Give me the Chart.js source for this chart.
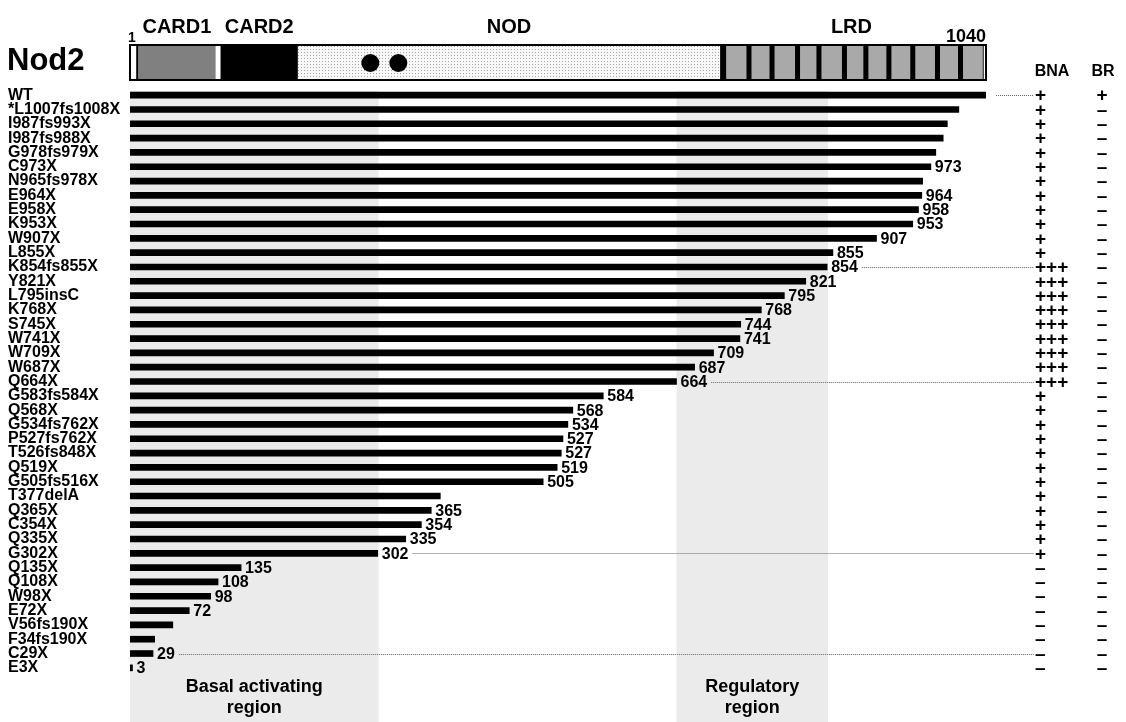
<!DOCTYPE html>
<html>
<head>
<meta charset="utf-8">
<title>Nod2 truncation mutants</title>
<script src="https://cdn.jsdelivr.net/npm/chart.js@4.4.1/dist/chart.umd.min.js"></script>
<style>
	body { margin: 0; background: #fff; }
	#wrap { width: 1126px; height: 722px; position: relative; }
</style>
</head>
<body>
<div id="wrap"><canvas id="mycanvas"></canvas></div>
<script>
// mutants, top to bottom
var mutants = ['WT', '*L1007fs1008X', 'I987fs993X', 'I987fs988X', 'G978fs979X', 'C973X', 'N965fs978X',
	'E964X', 'E958X', 'K953X', 'W907X', 'L855X', 'K854fs855X', 'Y821X', 'L795insC', 'K768X', 'S745X',
	'W741X', 'W709X', 'W687X', 'Q664X', 'G583fs584X', 'Q568X', 'G534fs762X', 'P527fs762X', 'T526fs848X',
	'Q519X', 'G505fs516X', 'T377delA', 'Q365X', 'C354X', 'Q335X', 'G302X', 'Q135X', 'Q108X', 'W98X',
	'E72X', 'V56fs190X', 'F34fs190X', 'C29X', 'E3X'];
// bar ends (residues) as drawn
var lengths = [1040, 1007, 993, 988, 979, 973, 963, 962, 958, 951, 907, 854, 847, 821, 795, 767, 742,
	741, 709, 686, 664, 575, 538, 532, 526, 524, 519, 502, 377, 366, 354, 335, 301, 135, 107, 98,
	72, 52, 30, 28, 3];
var endLabels = ['', '', '', '', '', '973', '', '964', '958', '953', '907', '855', '854', '821', '795', '768', '744',
	'741', '709', '687', '664', '584', '568', '534', '527', '527', '519', '505', '', '365', '354', '335', '302',
	'135', '108', '98', '72', '', '', '29', '3'];
var bna = ['+', '+', '+', '+', '+', '+', '+', '+', '+', '+', '+', '+', '+++', '+++', '+++', '+++', '+++',
	'+++', '+++', '+++', '+++', '+', '+', '+', '+', '+', '+', '+', '+', '+', '+', '+', '+',
	'\u2013', '\u2013', '\u2013', '\u2013', '\u2013', '\u2013', '\u2013', '\u2013'];
var br = ['+'];
for (var k = 1; k < mutants.length; k++) br.push('\u2013');
var linkedRows = ['WT', 'K854fs855X', 'Q664X', 'G302X', 'C29X'];

var regionNames = [['Basal activating', 'region'], ['Regulatory', 'region']];
var regionStarts = [0, 664];
var regionEnds = [302, 848];

var proteinLength = 1040;
var domainNames = ['CARD1', 'CARD2', 'NOD', 'LRD'];
var domainStarts = [10, 110, 204, 717];
var domainEnds = [104, 204, 717, 1036];
var lrrStarts = [717, 749, 777, 808, 834, 865, 891, 919, 948, 978, 1006];
var motifPositions = [292, 326];

var fontFam = '"Liberation Sans", Arial, sans-serif';

function stipple(ctx) {
	var p = document.createElement('canvas');
	p.width = 3; p.height = 3;
	var pc = p.getContext('2d');
	pc.fillStyle = '#f8f8f8';
	pc.fillRect(0, 0, 3, 3);
	pc.fillStyle = '#a8a8a8';
	pc.fillRect(1, 1, 1, 1);
	return ctx.createPattern(p, 'repeat');
}

var nod2Plugin = {
	id: 'nod2',
	beforeDatasetsDraw: function(chart) {
		var c = chart.ctx, xs = chart.scales.x, area = chart.chartArea;
		c.save();
		c.fillStyle = '#ebebeb';
		for (var i = 0; i < regionStarts.length; i++) {
			var x0 = xs.getPixelForValue(regionStarts[i]);
			var x1 = xs.getPixelForValue(regionEnds[i]);
			c.fillRect(x0, area.top + 3, x1 - x0, chart.height - area.top - 3);
		}
		c.restore();
	},
	afterDatasetsDraw: function(chart) {
		var c = chart.ctx, xs = chart.scales.x, ys = chart.scales.y;
		var px = function(v) { return xs.getPixelForValue(v); };
		c.save();

		// region captions
		c.fillStyle = '#000';
		c.textAlign = 'center';
		c.textBaseline = 'middle';
		c.font = 'bold 18px ' + fontFam;
		for (var r = 0; r < regionNames.length; r++) {
			var cx = (px(regionStarts[r]) + px(regionEnds[r])) / 2;
			c.fillText(regionNames[r][0], cx, 687);
			c.fillText(regionNames[r][1], cx, 708);
		}

		// value labels at bar ends
		c.textAlign = 'left';
		c.font = 'bold 16px ' + fontFam;
		var labelEnd = [];
		for (var i = 0; i < mutants.length; i++) {
			var y = ys.getPixelForValue(i);
			var xe = px(lengths[i]) + 4;
			labelEnd.push(px(lengths[i]) + 10);
			if (endLabels[i]) {
				c.fillText(endLabels[i], xe, y + 1);
				labelEnd[i] = xe + c.measureText(endLabels[i]).width + 4;
			}
		}

		// dotted connectors to BNA column
		c.strokeStyle = '#666';
		c.lineWidth = 1;
		c.setLineDash([1, 1]);
		for (var j = 0; j < linkedRows.length; j++) {
			var idx = mutants.indexOf(linkedRows[j]);
			var yy = Math.round(ys.getPixelForValue(idx)) + 0.5;
			c.beginPath();
			c.moveTo(labelEnd[idx], yy);
			c.lineTo(1034, yy);
			c.stroke();
		}
		c.setLineDash([]);

		// BNA / BR columns
		c.font = 'bold 16px ' + fontFam;
		c.textAlign = 'center';
		c.fillText('BNA', 1052, 72);
		c.fillText('BR', 1103, 72);
		c.font = 'bold 19px ' + fontFam;
		for (var i2 = 0; i2 < mutants.length; i2++) {
			var y2 = ys.getPixelForValue(i2) + 1;
			c.textAlign = 'left';
			c.fillText(bna[i2], 1035, y2);
			c.textAlign = 'center';
			c.fillText(br[i2], 1102, y2);
		}

		// domain bar
		var yT = 45, yB = 80, h = yB - yT;
		c.fillStyle = '#fff';
		c.fillRect(px(0), yT, px(proteinLength) - px(0), h);
		c.fillStyle = '#808080';
		c.fillRect(px(domainStarts[0]), yT, px(domainEnds[0]) - px(domainStarts[0]), h);
		c.fillStyle = '#000';
		c.fillRect(px(domainStarts[0]) - 2, yT, 2, h);
		c.fillRect(px(domainStarts[1]), yT, px(domainEnds[1]) - px(domainStarts[1]), h);
		c.fillStyle = stipple(c);
		c.fillRect(px(domainStarts[2]), yT, px(domainEnds[2]) - px(domainStarts[2]), h);
		c.fillStyle = '#a9a9a9';
		c.fillRect(px(domainStarts[3]), yT, px(domainEnds[3]) - px(domainStarts[3]), h);
		c.fillStyle = '#000';
		for (var s = 0; s < lrrStarts.length; s++) {
			c.fillRect(px(lrrStarts[s]), yT, s === 0 ? 6 : 5, h);
		}
		c.fillRect(px(domainEnds[3]), yT, 1, h);
		for (var m = 0; m < motifPositions.length; m++) {
			c.beginPath();
			c.arc(px(motifPositions[m]), 63, 9, 0, Math.PI * 2);
			c.fill();
		}
		c.strokeStyle = '#000';
		c.lineWidth = 2;
		c.strokeRect(px(0), yT, px(proteinLength) - px(0), h);

		// domain names and ends
		c.font = 'bold 20px ' + fontFam;
		c.textAlign = 'center';
		for (var d = 0; d < domainNames.length; d++) {
			c.fillText(domainNames[d], (px(domainStarts[d]) + px(domainEnds[d])) / 2, 27);
		}
		c.font = 'bold 14px ' + fontFam;
		c.fillText('1', px(0) + 2, 38);
		c.font = 'bold 18px ' + fontFam;
		c.textAlign = 'right';
		c.fillText(String(proteinLength), px(proteinLength), 37);
		c.textAlign = 'left';
		c.font = 'bold 31px ' + fontFam;
		c.fillText('Nod2', 7, 61);

		c.restore();
	}
};

var chartdata = {
	labels: mutants,
	datasets: [
		{
			label: 'Nod2 length',
			backgroundColor: '#000',
			borderWidth: 0,
			barThickness: 6,
			data: lengths
		}
	]
};

var ctx = document.getElementById('mycanvas');

var barGraph = new Chart(ctx, {
	type: 'bar',
	data: chartdata,
	plugins: [nod2Plugin],
	options: {
		indexAxis: 'y',
		responsive: true,
		maintainAspectRatio: false,
		animation: false,
		layout: { padding: { left: 8, right: 140, top: 88, bottom: 47 } },
		plugins: {
			legend: { display: false },
			tooltip: { enabled: false }
		},
		scales: {
			x: { type: 'linear', display: false, min: 0, max: proteinLength },
			y: {
				grid: { display: false },
				border: { display: false },
				ticks: {
					autoSkip: false,
					crossAlign: 'far',
					padding: 0,
					color: '#000',
					font: { family: fontFam, size: 16, weight: 'bold' }
				},
				afterFit: function(scale) { scale.width = 122; }
			}
		}
	}
});
</script>
</body>
</html>
